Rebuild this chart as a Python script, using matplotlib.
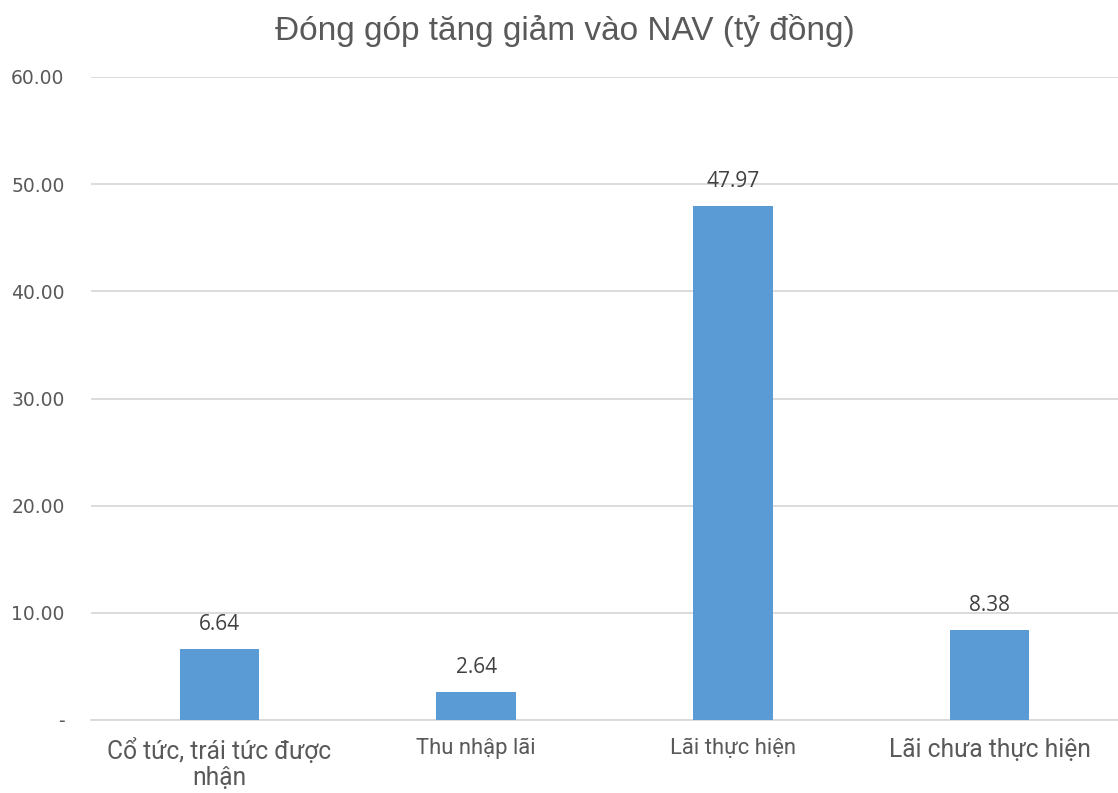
import matplotlib
matplotlib.use("Agg")
import matplotlib.pyplot as plt
import numpy as np

categories = ["Cổ tức, trái tức được\nnhận", "Thu nhập lãi", "Lãi thực hiện", "Lãi chưa thực hiện"]
values = [6.64, 2.64, 47.97, 8.38]
label_sizes = [17.7, 15.8, 15.8, 17.7]
yticks = [0, 10, 20, 30, 40, 50, 60]
ytick_labels = ["-", "10.00", "20.00", "30.00", "40.00", "50.00", "60.00"]
title = "Đóng góp tăng giảm vào NAV (tỷ đồng)"

fig = plt.figure(figsize=(11.18, 7.93), dpi=100)
ax = fig.add_axes([91/1118, 1-720/793, 1-91/1118, (720-77)/793])

x = np.arange(len(categories))
ax.bar(x, values, width=0.31, color="#5B9BD5", zorder=3)
ax.set_xlim(-0.5, len(categories)-0.5)
ax.set_ylim(0, 60)
ax.set_yticks(yticks)
ax.set_yticklabels(ytick_labels, fontsize=13.5, color="#595959", family="DejaVu Sans")
ax.yaxis.grid(True, color="#D9D9D9", linewidth=1.3, zorder=0)
for s in ["top", "right", "left"]:
    ax.spines[s].set_visible(False)
ax.spines["bottom"].set_color("#D9D9D9")
ax.spines["bottom"].set_linewidth(1.3)
ax.tick_params(axis="y", length=0, pad=19)
ax.tick_params(axis="x", length=0)
ax.set_xticks(x)
ax.set_xticklabels([])
for xi, lab, fs in zip(x, categories, label_sizes):
    ax.annotate(lab, (xi, 0), xytext=(0, -13), textcoords="offset points",
                ha="center", va="top", fontsize=fs, color="#595959",
                family="Roboto", linespacing=1.1)
for xi, v in zip(x, values):
    ax.annotate(f"{v:.2f}", (xi, v), xytext=(0, 10), textcoords="offset points",
                ha="center", va="bottom", fontsize=15, color="#404040",
                family="Open Sans")

fig.text(0.505, 0.982, title, ha="center", va="top", fontsize=24,
         color="#595959", family="Liberation Sans")
fig.savefig("out.png", dpi=100)
